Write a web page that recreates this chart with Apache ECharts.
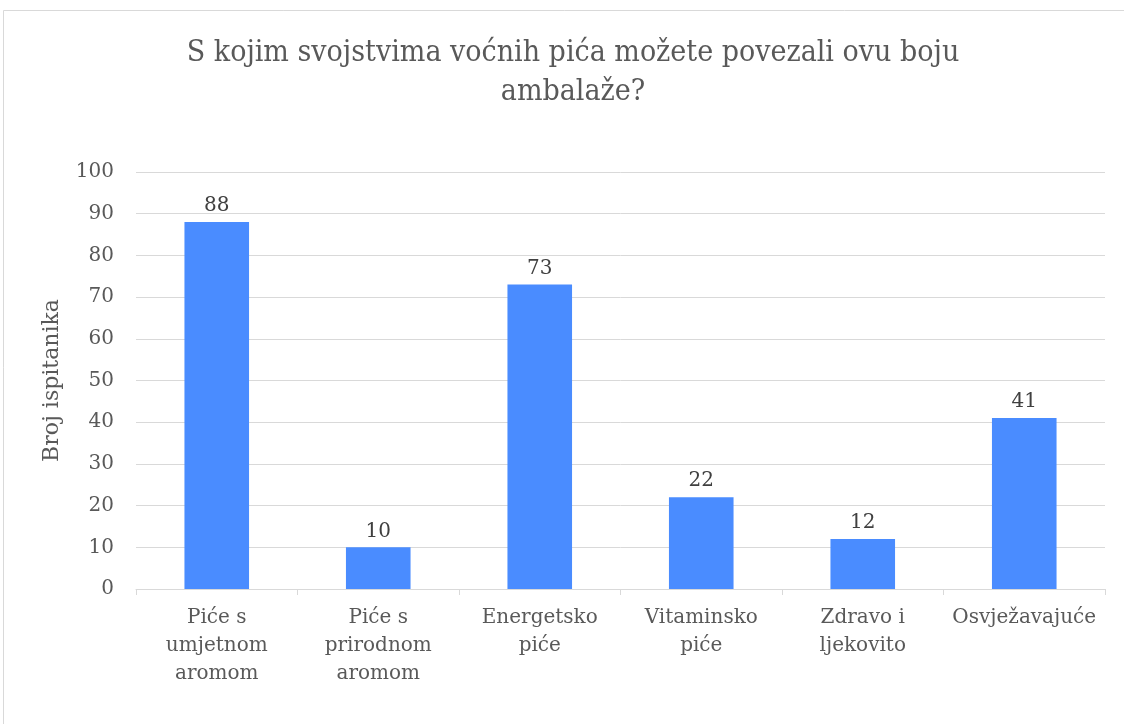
<!DOCTYPE html>
<html>
<head>
<meta charset="utf-8">
<script src="https://cdn.jsdelivr.net/npm/echarts@6/dist/echarts.min.js"></script>
<style>
  html, body { margin: 0; padding: 0; background: #fff; }
  #chart { width: 1124px; height: 724px; }
</style>
</head>
<body>
<div id="chart"></div>
<script>
// Survey answers: which fruit-drink qualities this packaging colour suggests
const categories = [
  'Piće s\numjetnom\naromom',
  'Piće s\nprirodnom\naromom',
  'Energetsko\npiće',
  'Vitaminsko\npiće',
  'Zdravo i\nljekovito',
  'Osvježavajuće'
];
const respondents = [88, 10, 73, 22, 12, 41];

const titleLines = 'S kojim svojstvima voćnih pića možete povezali ovu boju\nambalaže?';
const yAxisName = 'Broj ispitanika';

const FONT = 'DejaVu Serif';
const TITLE_FONT = 'DejaVu Serif Condensed';
const chart = echarts.init(document.getElementById('chart'), null, { renderer: 'canvas' });

chart.setOption({
  backgroundColor: '#ffffff',
  animation: false,
  graphic: [{
    type: 'rect',
    shape: { x: 3.5, y: 10.5, width: 1130, height: 730 },
    style: { fill: 'none', stroke: '#d9d9d9', lineWidth: 1 },
    silent: true
  }],
  title: {
    text: titleLines,
    left: 568,
    top: 29,
    textAlign: 'center',
    textStyle: {
      fontFamily: TITLE_FONT,
      fontSize: 30,
      fontWeight: 'normal',
      color: '#595959',
      lineHeight: 39
    }
  },
  grid: { left: 136, right: 19, top: 172, bottom: 135 },
  xAxis: {
    type: 'category',
    data: categories,
    axisLine: { lineStyle: { color: '#d9d9d9', width: 1 } },
    axisTick: { show: true, length: 6, lineStyle: { color: '#d9d9d9' } },
    axisLabel: {
      fontFamily: FONT,
      fontSize: 20,
      color: '#595959',
      lineHeight: 28,
      margin: 15,
      interval: 0
    }
  },
  yAxis: {
    type: 'value',
    min: 0,
    max: 100,
    interval: 10,
    name: yAxisName,
    nameLocation: 'middle',
    nameRotate: 90,
    nameGap: 73,
    nameTextStyle: { fontFamily: FONT, fontSize: 22, color: '#595959' },
    axisLine: { show: false },
    axisTick: { show: false },
    splitLine: { lineStyle: { color: '#d9d9d9', width: 1 } },
    axisLabel: { fontFamily: FONT, fontSize: 20, color: '#595959', margin: 22 }
  },
  series: [{
    type: 'bar',
    data: respondents,
    barWidth: '40%',
    itemStyle: { color: '#4a8cff' },
    label: {
      show: true,
      position: 'top',
      distance: 6,
      fontFamily: FONT,
      fontSize: 20,
      color: '#404040'
    }
  }]
});
</script>
</body>
</html>
